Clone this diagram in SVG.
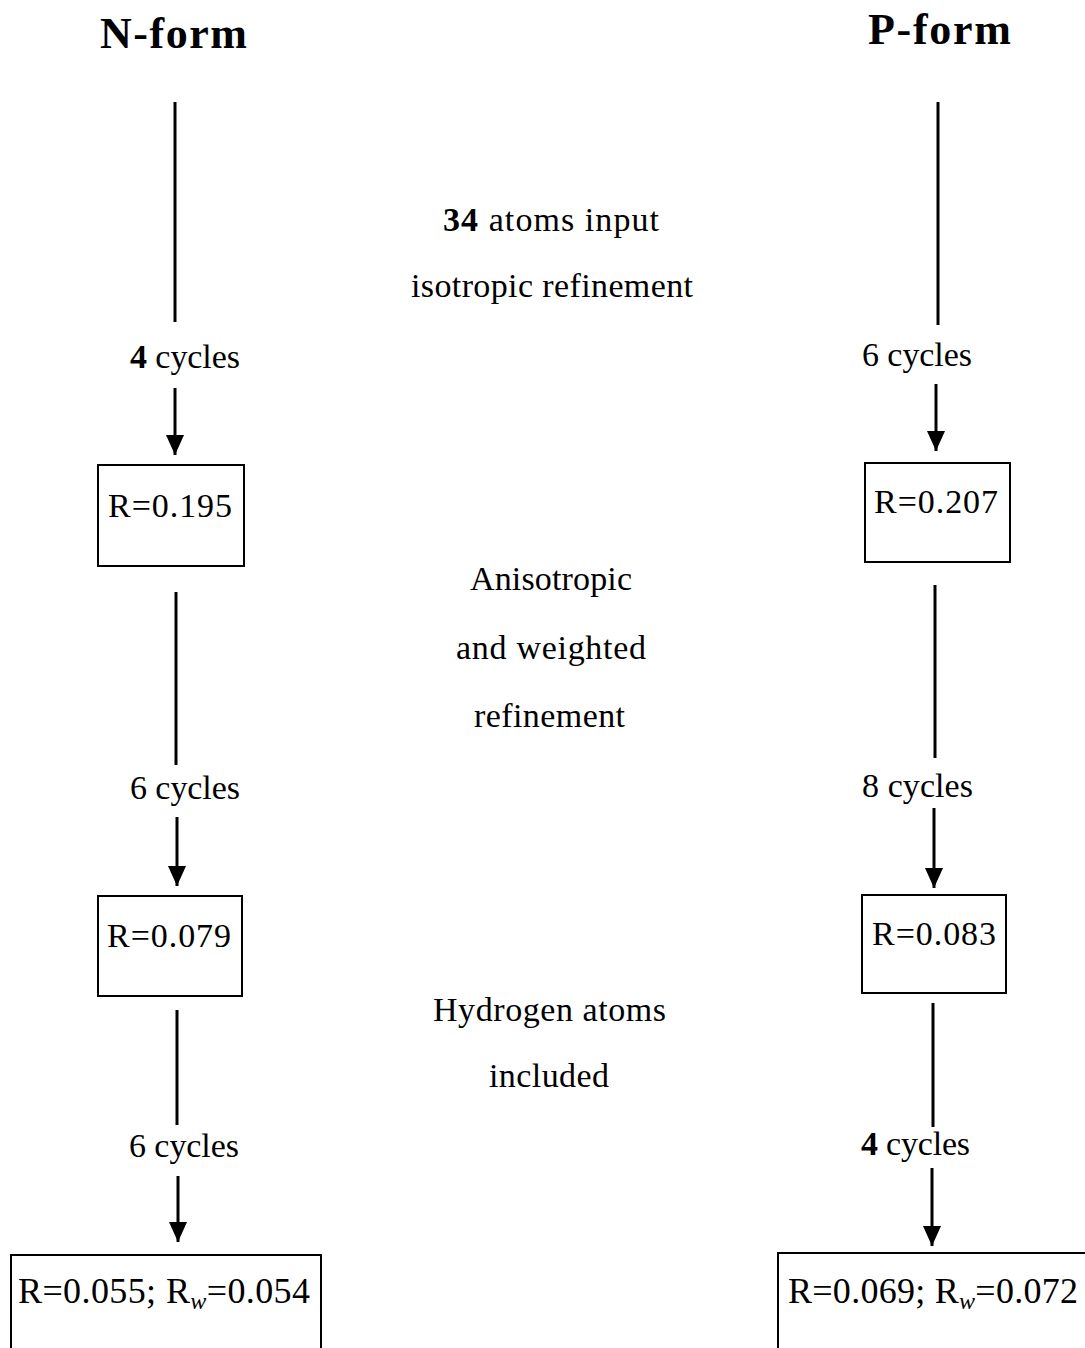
<svg xmlns="http://www.w3.org/2000/svg" width="1085" height="1348" viewBox="0 0 1085 1348">
<style>
.t{font-family:"Liberation Serif","DejaVu Serif",serif;font-size:34px;fill:#000}
.r{font-size:36px}
.h{font-family:"Liberation Serif","DejaVu Serif",serif;font-size:44px;font-weight:bold;fill:#000}
.b{font-weight:bold}
.ln{stroke:#000;stroke-width:3;fill:none}
.box{stroke:#000;stroke-width:2;fill:#fff}
</style>
<defs>
<marker id="ah" markerUnits="userSpaceOnUse" markerWidth="20" markerHeight="20" refX="20" refY="9" orient="auto">
<path d="M0,0 L20,9 L0,18 Z" fill="#000"/>
</marker>
</defs>
<rect width="1085" height="1348" fill="#fff"/>
<g id="headers">
<text class="h" x="100" y="48" textLength="147">N-form</text>
<text class="h" x="868" y="44" textLength="143">P-form</text>
</g>
<g id="connectors">
<line class="ln" x1="175" y1="102" x2="175" y2="322"/>
<line class="ln" x1="175" y1="388" x2="175" y2="455" marker-end="url(#ah)"/>
<line class="ln" x1="176" y1="592" x2="176" y2="765"/>
<line class="ln" x1="177" y1="817" x2="177" y2="886" marker-end="url(#ah)"/>
<line class="ln" x1="177" y1="1010" x2="177" y2="1125"/>
<line class="ln" x1="178" y1="1176" x2="178" y2="1242" marker-end="url(#ah)"/>
<line class="ln" x1="938" y1="102" x2="938" y2="325"/>
<line class="ln" x1="936" y1="384" x2="936" y2="451" marker-end="url(#ah)"/>
<line class="ln" x1="935" y1="585" x2="935" y2="758"/>
<line class="ln" x1="934" y1="808" x2="934" y2="888" marker-end="url(#ah)"/>
<line class="ln" x1="933" y1="1003" x2="933" y2="1127"/>
<line class="ln" x1="932" y1="1168" x2="932" y2="1246" marker-end="url(#ah)"/>
</g>
<g id="label-n1"><text class="t" x="130" y="368" textLength="110"><tspan class="b">4</tspan> cycles</text></g>
<g id="label-n2"><text class="t" x="130" y="799" textLength="110">6 cycles</text></g>
<g id="label-n3"><text class="t" x="129" y="1157" textLength="110">6 cycles</text></g>
<g id="label-p1"><text class="t" x="862" y="366" textLength="110">6 cycles</text></g>
<g id="label-p2"><text class="t" x="862" y="797" textLength="111">8 cycles</text></g>
<g id="label-p3"><text class="t" x="861" y="1155" textLength="109"><tspan class="b">4</tspan> cycles</text></g>
<g id="step1">
<text class="t" x="443" y="231" textLength="216"><tspan class="b">34</tspan> atoms input</text>
<text class="t" x="411" y="297" textLength="282">isotropic refinement</text>
</g>
<g id="step2">
<text class="t" x="470" y="590" textLength="162">Anisotropic</text>
<text class="t" x="456" y="659" textLength="190">and weighted</text>
<text class="t" x="474" y="727" textLength="151">refinement</text>
</g>
<g id="step3">
<text class="t" x="433" y="1021" textLength="233">Hydrogen atoms</text>
<text class="t" x="489" y="1087" textLength="120">included</text>
</g>
<g id="box-n1">
<rect class="box" x="98" y="465" width="146" height="101"/>
<text class="t" x="108" y="517" textLength="124">R=0.195</text>
</g>
<g id="box-n2">
<rect class="box" x="98" y="896" width="144" height="100"/>
<text class="t" x="107" y="947" textLength="124">R=0.079</text>
</g>
<g id="box-n3">
<rect class="box" x="11" y="1255" width="310" height="110"/>
<text class="t r" x="18" y="1303" textLength="292">R=0.055; R<tspan font-style="italic" font-size="24" dy="6">w</tspan><tspan dy="-6">=0.054</tspan></text>
</g>
<g id="box-p1">
<rect class="box" x="865" y="463" width="145" height="99"/>
<text class="t" x="874" y="513" textLength="124">R=0.207</text>
</g>
<g id="box-p2">
<rect class="box" x="862" y="895" width="144" height="98"/>
<text class="t" x="872" y="945" textLength="124">R=0.083</text>
</g>
<g id="box-p3">
<rect class="box" x="778" y="1253" width="320" height="110"/>
<text class="t r" x="788" y="1303" textLength="290">R=0.069; R<tspan font-style="italic" font-size="24" dy="6">w</tspan><tspan dy="-6">=0.072</tspan></text>
</g>
</svg>
